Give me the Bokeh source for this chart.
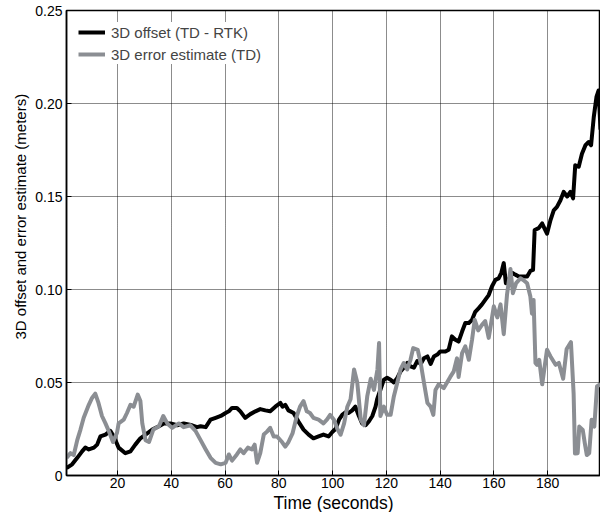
from bokeh.plotting import figure
from bokeh.models import Range1d, FixedTicker, Legend, LegendItem, Title
from bokeh.embed import file_html
from bokeh.resources import INLINE

# 3D offset (TD - RTK)
t_offset = [1, 3.1, 5, 6.8, 8, 9.3, 11.2, 12.4, 13.6, 15.5,
            17.3, 18.6, 20.4, 22.9, 24.8, 26.6, 28.5, 30.4, 32.9, 35.4,
            37.2, 39.7, 42.2, 44.6, 47.7, 49.6, 50.9, 52.8, 54.6, 56.5,
            58.4, 60.2, 61.4, 62.6, 64.4, 65.7, 67.5, 69.4, 71.3, 73.1,
            75, 76.8, 78.7, 80.6, 81.4, 82.4, 83.6, 85.5, 87.3, 89.2,
            91.1, 92.9, 94.8, 96.6, 98.5, 100, 101.1, 102.4, 103.6, 104.8,
            106, 107.3, 108.5, 109.8, 111, 112.3, 113.5, 114.8, 116, 116.6,
            117.8, 119.1, 120.3, 121.6, 122.8, 124.1, 125.3, 126.5, 127.8, 129,
            130.3, 131.5, 132.8, 134, 135.3, 136.5, 137.7, 139, 140.1, 142,
            143.2, 144.4, 145.7, 146.9, 148.2, 149.4, 150.7, 151.9, 153.1, 154.4,
            155.6, 156.8, 158.1, 159.3, 160.6, 161.8, 162.8, 163.7, 164.5, 165.5,
            166.8, 168, 169.3, 171.1, 172.4, 173.6, 174.6, 175.2, 176.7, 178,
            178.8, 179.8, 181.1, 182.3, 183.5, 184.8, 186, 187.3, 188.5, 189.5,
            190.3, 191.6, 192.8, 194.1, 195.3, 196.2, 197.2, 198.2, 199, 199.7]
v_offset = [0.004, 0.006, 0.0095, 0.013, 0.015, 0.014, 0.015, 0.0166, 0.021, 0.022,
            0.024, 0.021, 0.015, 0.012, 0.013, 0.0166, 0.020, 0.022, 0.0247, 0.0265,
            0.028, 0.028, 0.027, 0.028, 0.027, 0.026, 0.0265, 0.026, 0.030, 0.031,
            0.032, 0.0336, 0.0345, 0.0363, 0.0363, 0.0345, 0.031, 0.033, 0.0345, 0.0357,
            0.035, 0.0345, 0.037, 0.039, 0.037, 0.038, 0.035, 0.0336, 0.029, 0.0247,
            0.022, 0.020, 0.021, 0.022, 0.021, 0.0235, 0.025, 0.030, 0.0326, 0.034,
            0.0336, 0.035, 0.037, 0.032, 0.028, 0.027, 0.029, 0.032, 0.037, 0.041,
            0.0461, 0.0515, 0.0525, 0.0515, 0.050, 0.0525, 0.056, 0.058, 0.0605, 0.0587,
            0.058, 0.0615, 0.060, 0.063, 0.064, 0.060, 0.064, 0.065, 0.0667, 0.0667,
            0.0676, 0.0748, 0.073, 0.072, 0.0774, 0.082, 0.082, 0.0837, 0.088, 0.090,
            0.092, 0.0944, 0.097, 0.1016, 0.1052, 0.106, 0.109, 0.1142, 0.1034, 0.105,
            0.109, 0.108, 0.107, 0.107, 0.107, 0.110, 0.1105, 0.132, 0.133, 0.1355,
            0.133, 0.130, 0.1373, 0.1426, 0.1444, 0.148, 0.1525, 0.150, 0.1525, 0.149,
            0.1668, 0.166, 0.173, 0.1776, 0.1793, 0.1776, 0.1928, 0.2035, 0.207, 0.186]

# 3D error estimate (TD)
t_error = [1, 2.5, 3.7, 5, 6.2, 7.4, 9.3, 10.5, 11.7, 12.9,
           14.2, 15.5, 16.7, 18.3, 19.8, 20.4, 22.3, 23.5, 24.8, 26,
           27.5, 28.5, 29.2, 30.4, 31.7, 33.3, 35.4, 37, 38.5, 40.3,
           42.8, 44.6, 47.1, 49, 50.9, 52.8, 54.6, 56.5, 58.4, 60.2,
           61.4, 62.6, 64.4, 65.7, 66.9, 68.5, 70, 71, 71.9, 73.1,
           74.4, 75.6, 76.8, 78.1, 79.3, 81.2, 82.4, 83.6, 85.1, 86.7,
           87.9, 89.2, 90.4, 91.6, 92.9, 94.8, 96.6, 97.9, 99.1, 100.5,
           101.8, 103, 104.3, 105.5, 106.7, 108, 109.2, 110.5, 111.7, 112.9,
           114.2, 115.4, 116.7, 117.3, 117.8, 119.1, 120.3, 121.6, 122.8, 124.1,
           125.3, 126.5, 127.8, 129, 130, 131.7, 132.8, 134, 135.3, 136.5,
           137.5, 138.3, 139.5, 141.4, 142.6, 143.8, 145.1, 146.3, 146.9, 148.2,
           149.4, 150.7, 151.9, 152.9, 154.2, 155.6, 156.8, 158.1, 158.8, 160,
           161.3, 162.5, 163.7, 164.9, 166.2, 167.1, 168.3, 169.9, 171.1, 172.4,
           173.6, 174.2, 174.8, 175.5, 176.1, 176.9, 178, 179.8, 181.1, 183,
           184.2, 185.8, 187.1, 188.7, 189.7, 190.2, 191.2, 191.8, 193.1, 193.9,
           194.6, 195.5, 196.4, 197.4, 198.4, 199.7]
v_error = [0.0095, 0.012, 0.011, 0.019, 0.0247, 0.031, 0.038, 0.0417, 0.044, 0.039,
           0.032, 0.028, 0.024, 0.018, 0.023, 0.028, 0.030, 0.0336, 0.038, 0.037,
           0.0435, 0.040, 0.028, 0.019, 0.018, 0.0247, 0.0265, 0.032, 0.028, 0.0256,
           0.028, 0.026, 0.027, 0.024, 0.019, 0.014, 0.0095, 0.0068, 0.006, 0.0068,
           0.0113, 0.008, 0.0113, 0.014, 0.012, 0.015, 0.014, 0.0166, 0.0068, 0.012,
           0.022, 0.0236, 0.0256, 0.021, 0.021, 0.018, 0.0155, 0.018, 0.0226, 0.032,
           0.037, 0.040, 0.0345, 0.0336, 0.031, 0.030, 0.028, 0.030, 0.0326, 0.030,
           0.025, 0.0219, 0.028, 0.037, 0.041, 0.057, 0.050, 0.030, 0.027, 0.0425,
           0.052, 0.046, 0.057, 0.0712, 0.032, 0.037, 0.0326, 0.0326, 0.0425, 0.050,
           0.057, 0.0605, 0.057, 0.0622, 0.0685, 0.0675, 0.0605, 0.050, 0.039, 0.037,
           0.0326, 0.046, 0.049, 0.047, 0.050, 0.053, 0.056, 0.063, 0.053, 0.0658,
           0.0694, 0.0622, 0.073, 0.0837, 0.078, 0.081, 0.083, 0.074, 0.080, 0.091,
           0.085, 0.092, 0.076, 0.097, 0.111, 0.098, 0.1034, 0.106, 0.105, 0.1034,
           0.0962, 0.087, 0.0944, 0.0605, 0.0595, 0.0622, 0.049, 0.0676, 0.064, 0.0595,
           0.0605, 0.052, 0.068, 0.0717, 0.044, 0.0118, 0.012, 0.0263, 0.0245, 0.017,
           0.011, 0.012, 0.030, 0.0263, 0.048, 0.049]

x_ticks = [20, 40, 60, 80, 100, 120, 140, 160, 180]
y_ticks = [0, 0.05, 0.10, 0.15, 0.20, 0.25]
y_tick_labels = ["0", "0.05", "0.10", "0.15", "0.20", "0.25"]
x_title = "Time (seconds)"
y_title = "3D offset and error estimate (meters)"

FONT = "Liberation Sans"

p = figure(width=600, height=512, output_backend="svg", toolbar_location=None,
           x_range=Range1d(1, 199.7), y_range=Range1d(0, 0.25),
           min_border_left=66, min_border_right=0, min_border_top=10, min_border_bottom=36)

p.outline_line_color = "black"
p.outline_line_width = 1.5

l1 = p.line(t_offset, v_offset, line_color="black", line_width=4, line_join="round")
l2 = p.line(t_error, v_error, line_color="#8b8e93", line_width=4, line_join="round")

bottom_axis = p.below[0]
left_axis = p.left[0]

for ax in (bottom_axis, left_axis):
    ax.major_tick_in = 5
    ax.major_tick_out = 0
    ax.minor_tick_in = 0
    ax.minor_tick_out = 0
    ax.axis_line_color = "black"
    ax.axis_line_width = 1.5
    ax.major_label_text_font = FONT
    ax.major_label_text_font_size = "14px"
    ax.major_label_text_color = "black"

bottom_axis.ticker = FixedTicker(ticks=x_ticks)
left_axis.ticker = FixedTicker(ticks=y_ticks)
left_axis.major_label_overrides = {t: s for t, s in zip(y_ticks, y_tick_labels)}
bottom_axis.major_label_standoff = 2
left_axis.major_label_standoff = 4

for g in (p.xgrid[0], p.ygrid[0]):
    g.grid_line_color = "black"
    g.grid_line_dash = "1 1"
    g.grid_line_width = 1
    g.grid_line_alpha = 0.9
p.xgrid[0].ticker = FixedTicker(ticks=x_ticks)
p.ygrid[0].ticker = FixedTicker(ticks=y_ticks)

# axis titles as side-panel titles
p.add_layout(Title(text=x_title, align="center", standoff=0,
                   text_font=FONT, text_font_size="17.5px", text_font_style="normal",
                   text_color="black"), "below")
p.add_layout(Title(text=y_title, align="left", offset=136, standoff=8,
                   text_font=FONT, text_font_size="15px", text_font_style="normal",
                   text_color="black"), "left")

legend = Legend(items=[LegendItem(label="3D offset (TD - RTK)", renderers=[l1]),
                       LegendItem(label="3D error estimate (TD)", renderers=[l2])],
                location="top_left", margin=12, padding=0, spacing=2,
                label_height=20, glyph_width=27, glyph_height=20, label_standoff=6,
                border_line_color=None, background_fill_alpha=1.0,
                label_text_font=FONT, label_text_font_size="15px")
p.add_layout(legend)

open("out.html", "w").write(file_html(p, INLINE))
